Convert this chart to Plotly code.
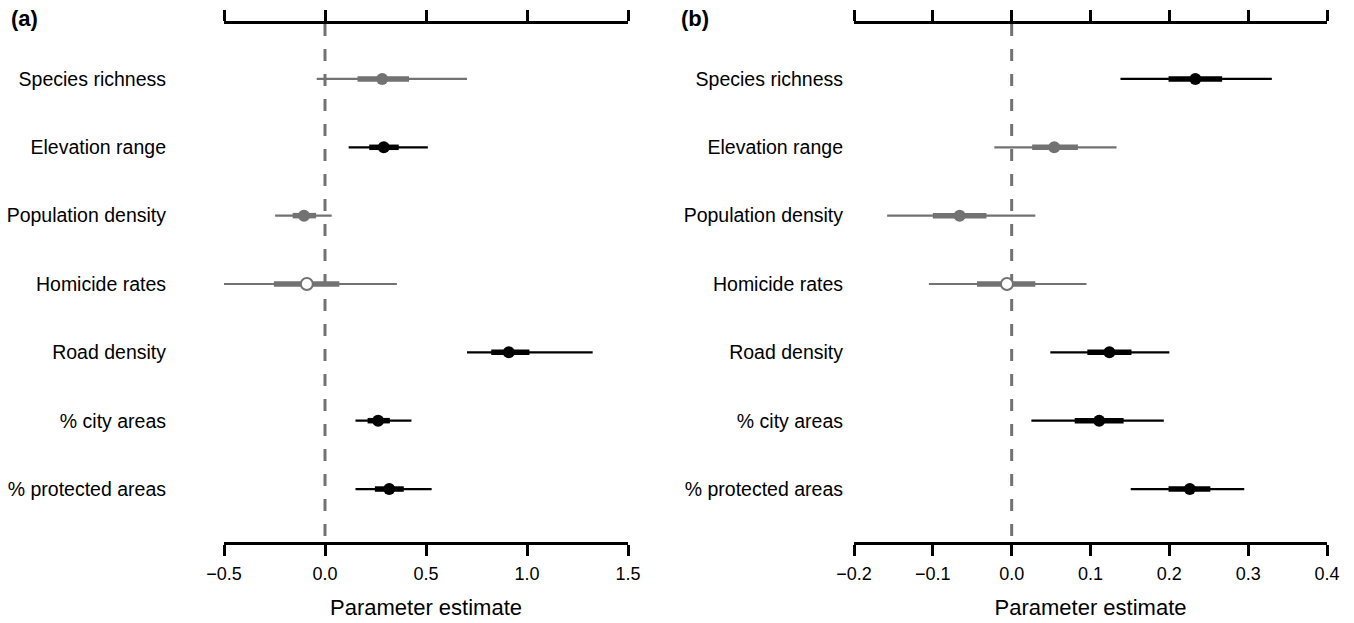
import plotly.graph_objects as go

# ---------------- data ----------------
labels = ["Species richness", "Elevation range", "Population density",
          "Homicide rates", "Road density", "% city areas", "% protected areas"]

a_est  = [0.283, 0.291, -0.104, -0.090, 0.910, 0.263, 0.318]
a_lo95 = [-0.041, 0.117, -0.247, -0.576, 0.703, 0.151, 0.151]
a_hi95 = [0.703, 0.509, 0.033, 0.356, 1.325, 0.428, 0.528]
a_lo50 = [0.161, 0.219, -0.160, -0.253, 0.823, 0.211, 0.247]
a_hi50 = [0.416, 0.365, -0.044, 0.071, 1.012, 0.321, 0.390]
a_status = ["uncertain", "clear", "uncertain", "excluded", "clear", "clear", "clear"]

b_est  = [0.233, 0.054, -0.066, -0.006, 0.124, 0.111, 0.226]
b_lo95 = [0.138, -0.022, -0.158, -0.105, 0.049, 0.025, 0.151]
b_hi95 = [0.330, 0.133, 0.030, 0.095, 0.200, 0.193, 0.295]
b_lo50 = [0.199, 0.026, -0.100, -0.044, 0.096, 0.080, 0.199]
b_hi50 = [0.267, 0.084, -0.032, 0.030, 0.152, 0.142, 0.252]
b_status = ["clear", "uncertain", "uncertain", "excluded", "clear", "clear", "clear"]

a_ticks = [-0.5, 0.0, 0.5, 1.0, 1.5]
b_ticks = [-0.2, -0.1, 0.0, 0.1, 0.2, 0.3, 0.4]

# ---------------- styling ----------------
W, H = 1354, 623
GREY = "#727272"
FONT = "Liberation Sans, Arial, sans-serif"
Y_RANGE = [7.775, 0.196]
rows = list(range(1, len(labels) + 1))

fig = go.Figure()


def add_panel(est, lo95, hi95, lo50, hi50, status, xa, ya):
    # reference line at zero
    fig.add_trace(go.Scatter(x=[0, 0], y=[Y_RANGE[1], Y_RANGE[0]], mode="lines",
                             line=dict(color=GREY, width=3, dash="12px,13px"),
                             xaxis=xa, yaxis=ya, showlegend=False, hoverinfo="skip"))
    for i, r in enumerate(rows):
        col = "black" if status[i] == "clear" else GREY
        fig.add_trace(go.Scatter(x=[lo95[i], hi95[i]], y=[r, r], mode="lines",
                                 line=dict(color=col, width=2.2),
                                 xaxis=xa, yaxis=ya, showlegend=False))
        fig.add_trace(go.Scatter(x=[lo50[i], hi50[i]], y=[r, r], mode="lines",
                                 line=dict(color=col, width=5.5),
                                 xaxis=xa, yaxis=ya, showlegend=False))
        if status[i] == "excluded":
            mk = dict(size=12, color="white", line=dict(color=col, width=2))
        else:
            mk = dict(size=12, color=col, line=dict(width=0))
        fig.add_trace(go.Scatter(x=[est[i]], y=[r], mode="markers", marker=mk,
                                 xaxis=xa, yaxis=ya, showlegend=False))


add_panel(a_est, a_lo95, a_hi95, a_lo50, a_hi50, a_status, "x", "y")
add_panel(b_est, b_lo95, b_hi95, b_lo50, b_hi50, b_status, "x2", "y2")

ydom = [(H - 542) / H, (H - 24) / H]
xdom_a = [224 / W, 628 / W]
xdom_b = [854 / W, 1327 / W]

axis_common = dict(showline=True, linecolor="black", linewidth=2.5,
                   ticks="outside", ticklen=11, tickwidth=2.5, tickcolor="black",
                   showgrid=False, zeroline=False, tickformat=".1f",
                   automargin=False,
                   tickfont=dict(family=FONT, size=18, color="black"))

title_common = dict(text="Parameter estimate",
                    font=dict(family=FONT, size=22, color="black"), standoff=17)

yaxis_common = dict(range=Y_RANGE, tickvals=rows, ticktext=labels, showline=False,
                    showgrid=False, zeroline=False, ticks="", automargin=False,
                    tickfont=dict(family=FONT, size=19.5, color="black"), domain=ydom)

fig.update_layout(
    width=W, height=H, autosize=False,
    margin=dict(l=0, r=0, t=0, b=0, pad=0, autoexpand=False),
    paper_bgcolor="white", plot_bgcolor="white", showlegend=False,
    xaxis=dict(domain=xdom_a, range=[a_ticks[0], a_ticks[-1]], tickvals=a_ticks,
               anchor="y", side="bottom", title=title_common, ticklabelstandoff=3,
               **axis_common),
    xaxis3=dict(domain=xdom_a, range=[a_ticks[0], a_ticks[-1]], tickvals=a_ticks,
                anchor="y", side="top", overlaying="x", showticklabels=False,
                **axis_common),
    xaxis2=dict(domain=xdom_b, range=[b_ticks[0], b_ticks[-1]], tickvals=b_ticks,
                anchor="y2", side="bottom", title=title_common, ticklabelstandoff=3,
                **axis_common),
    xaxis4=dict(domain=xdom_b, range=[b_ticks[0], b_ticks[-1]], tickvals=b_ticks,
                anchor="y2", side="top", overlaying="x2", showticklabels=False,
                **axis_common),
    yaxis=dict(anchor="x", ticklabelstandoff=57, **yaxis_common),
    yaxis2=dict(anchor="x2", ticklabelstandoff=10, **yaxis_common),
    annotations=[
        dict(text="<b>(a)</b>", x=9 / W, y=1 - 19 / H, xref="paper", yref="paper",
             xanchor="left", yanchor="middle", showarrow=False,
             font=dict(family=FONT, size=22, color="black")),
        dict(text="<b>(b)</b>", x=679 / W, y=1 - 19 / H, xref="paper", yref="paper",
             xanchor="left", yanchor="middle", showarrow=False,
             font=dict(family=FONT, size=22, color="black")),
    ],
)

# dummy traces to make the top axes render
fig.add_trace(go.Scatter(x=[a_ticks[0]], y=[None], xaxis="x3", yaxis="y",
                         showlegend=False, hoverinfo="skip"))
fig.add_trace(go.Scatter(x=[b_ticks[0]], y=[None], xaxis="x4", yaxis="y2",
                         showlegend=False, hoverinfo="skip"))

fig.write_html("out.html",
               config={"displayModeBar": False},
               post_script="document.body.style.margin='0';"
                           "document.body.style.overflow='hidden';")
